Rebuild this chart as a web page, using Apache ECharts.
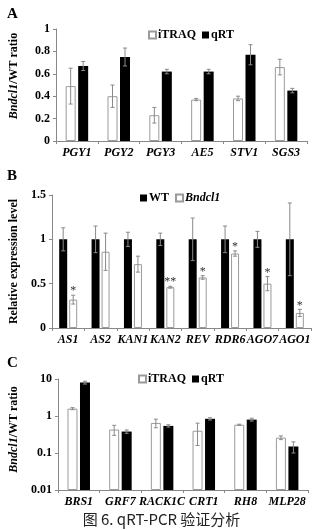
<!DOCTYPE html>
<html><head><meta charset="utf-8">
<script src="https://cdn.jsdelivr.net/npm/echarts@6/dist/echarts.min.js"></script>
<style>html,body{margin:0;padding:0;background:#fff}#c{width:323px;height:530px}</style>
</head><body><div id="c"></div>
<script>
// ---------- Panel A ----------
const genesA = ['PGY1','PGY2','PGY3','AE5','STV1','SGS3'];
const itraqA = [0.49,0.40,0.23,0.37,0.38,0.66];
const itraqAErr = [0.16,0.10,0.07,0.01,0.02,0.07];
const qrtA = [0.67,0.75,0.62,0.62,0.77,0.45];
const qrtAErr = [0.04,0.08,0.02,0.02,0.09,0.02];
// ---------- Panel B ----------
const genesB = ['AS1','AS2','KAN1','KAN2','REV','RDR6','AGO7','AGO1'];
const wtB = [1,1,1,1,1,1,1,1];
const wtBErr = [0.13,0.15,0.08,0.07,0.24,0.15,0.09,0.41];
const mutB = [0.32,0.86,0.72,0.46,0.57,0.84,0.50,0.17];
const mutBErr = [0.05,0.21,0.09,0.01,0.02,0.03,0.08,0.04];
const sigB = ['*','','','**','*','*','*','*'];
// ---------- Panel C ----------
const genesC = ['BRS1','GRF7','RACK1C','CRT1','RH8','MLP28'];
const itraqC = [1.58,0.43,0.65,0.40,0.58,0.26];
const itraqCErr = [0.10,0.13,0.17,0.24,0.02,0.03];
const qrtC = [8.0,0.38,0.54,0.84,0.80,0.15];
const qrtCErr = [0.7,0.04,0.04,0.06,0.07,0.05];
const ticksC = [0.01,0.1,1,10];

const SERIF = '"Liberation Serif","Times New Roman",serif';
const AX = '#888888';
const ERR = '#8a8a8a';
const FS = 12;

function errSeries(idx, cats, vals, errs, offset, marks, floor) {
  return {
    type: 'custom', xAxisIndex: idx, yAxisIndex: idx, z: 5, silent: true,
    data: cats.map((c, i) => [i, vals[i], errs[i]]),
    renderItem(params, api) {
      const i = api.value(0), v = api.value(1), e = api.value(2);
      const mark = marks ? marks[params.dataIndex] : '';
      const t = api.coord([i, v + e]);
      const b = api.coord([i, Math.max(v - e, floor)]);
      const x = t[0] + offset;
      const cw = 2;
      const ch = [
        {type:'line', shape:{x1:x,y1:t[1],x2:x,y2:b[1]}, style:{stroke:ERR,lineWidth:1}},
        {type:'line', shape:{x1:x-cw,y1:t[1],x2:x+cw,y2:t[1]}, style:{stroke:ERR,lineWidth:1}},
        {type:'line', shape:{x1:x-cw,y1:b[1],x2:x+cw,y2:b[1]}, style:{stroke:ERR,lineWidth:1}}
      ];
      if (mark) ch.push({type:'text', style:{text:mark, x:x, y:t[1]+2, align:'center', verticalAlign:'bottom',
        font:'12px ' + SERIF, fill:'#333'}});
      return {type:'group', children: ch};
    }
  };
}

const whiteBar = {color:'#ffffff', borderColor:'#9a9a9a', borderWidth:1};
const blackBar = {color:'#000000'};

function xAxis(idx, cats) {
  return {type:'category', gridIndex: idx, data: cats,
    axisLine:{lineStyle:{color:AX,width:1}},
    axisTick:{show:true,length:3,lineStyle:{color:AX}},
    axisLabel:{fontFamily:SERIF,fontWeight:'bold',fontStyle:'italic',fontSize:FS,color:'#000',margin:6,interval:0}};
}
function yAxisBase(idx, extra, namePad) {
  return Object.assign({gridIndex: idx,
    axisLine:{show:true,lineStyle:{color:AX,width:1}},
    axisTick:{show:true,length:3,lineStyle:{color:AX}},
    splitLine:{show:false},
    axisLabel:{fontFamily:SERIF,fontWeight:'bold',fontSize:FS,color:'#000',margin:6},
    nameLocation:'middle', nameRotate:90,
    nameTextStyle:{fontFamily:SERIF,fontWeight:'bold',fontSize:FS,color:'#000',padding:namePad,
      rich:{i:{fontFamily:SERIF,fontWeight:'bold',fontStyle:'italic',fontSize:FS,color:'#000'}}}
  }, extra);
}
const legendText = {fontFamily:SERIF,fontWeight:'bold',fontSize:FS,color:'#000',padding:[0,0,0,-3],
  rich:{i:{fontFamily:SERIF,fontWeight:'bold',fontStyle:'italic',fontSize:FS,color:'#000'}}};

const option = {
  animation:false,
  backgroundColor:'#fff',
  grid:[
    {left:51, right:16, top:29, bottom:389},
    {left:47, right:12, top:195, bottom:202},
    {left:50, right:15, top:379, bottom:40}
  ],
  legend:[
    {data:['iTRAQ','qRT'], left:148, top:29, itemWidth:7, itemHeight:7, itemGap:6, icon:'rect', textStyle:legendText, padding:0},
    {data:['WT','Bndcl1'], left:140, top:192, itemWidth:7, itemHeight:7, itemGap:6, icon:'rect', textStyle:legendText, padding:0,
      formatter: n => n === 'Bndcl1' ? '{i|Bndcl1}' : n},
    {data:['iTRAQ','qRT'], left:138, top:373, itemWidth:7, itemHeight:7, itemGap:6, icon:'rect', textStyle:legendText, padding:0}
  ],
  xAxis:[xAxis(0, genesA), xAxis(1, genesB), xAxis(2, genesC)],
  yAxis:[
    yAxisBase(0, {type:'value', min:0, max:1, interval:0.2, name:'{i|Bndcl1}/WT ratio', nameGap:36}, [0,0,0,18]),
    yAxisBase(1, {type:'value', min:0, max:1.5, interval:0.5, name:'Relative expression level', nameGap:32}, 0),
    yAxisBase(2, {type:'log', logBase:10, min:ticksC[0], max:ticksC[ticksC.length-1], startValue:ticksC[0],
      name:'{i|Bndcl1}/WT ratio', nameGap:36}, [0,0,0,10])
  ],
  series:[
    {name:'iTRAQ', type:'bar', xAxisIndex:0, yAxisIndex:0, data:itraqA, barWidth:10, barGap:'25%', itemStyle:whiteBar},
    {name:'qRT', type:'bar', xAxisIndex:0, yAxisIndex:0, data:qrtA, barWidth:10, barGap:'25%', itemStyle:blackBar},
    errSeries(0, genesA, itraqA, itraqAErr, -6.25, null, 0),
    errSeries(0, genesA, qrtA, qrtAErr, 6.25, null, 0),

    {name:'WT', type:'bar', xAxisIndex:1, yAxisIndex:1, data:wtB, barWidth:8, barGap:'25%', itemStyle:blackBar},
    {name:'Bndcl1', type:'bar', xAxisIndex:1, yAxisIndex:1, data:mutB, barWidth:8, barGap:'25%', itemStyle:whiteBar},
    errSeries(1, genesB, wtB, wtBErr, -5, null, 0),
    errSeries(1, genesB, mutB, mutBErr, 5, sigB, 0),

    {name:'iTRAQ', type:'bar', xAxisIndex:2, yAxisIndex:2, data:itraqC, barWidth:10, barGap:'25%', itemStyle:whiteBar},
    {name:'qRT', type:'bar', xAxisIndex:2, yAxisIndex:2, data:qrtC, barWidth:10, barGap:'25%', itemStyle:blackBar},
    errSeries(2, genesC, itraqC, itraqCErr, -6.25, null, 0.011),
    errSeries(2, genesC, qrtC, qrtCErr, 6.25, null, 0.011)
  ],
  graphic:[
    {type:'text', left:7, top:7, style:{text:'A', font:'bold 15px ' + SERIF, fill:'#000'}},
    {type:'text', left:7, top:169, style:{text:'B', font:'bold 15px ' + SERIF, fill:'#000'}},
    {type:'text', left:7, top:356, style:{text:'C', font:'bold 15px ' + SERIF, fill:'#000'}},
    {type:'text', left:'center', top:512, style:{text:'图 6. qRT-PCR 验证分析', font:'15px "Noto Sans CJK SC"', fill:'#222'}}
  ]
};
const chart = echarts.init(document.getElementById('c'), null, {renderer:'canvas'});
chart.setOption(option);
</script></body></html>
